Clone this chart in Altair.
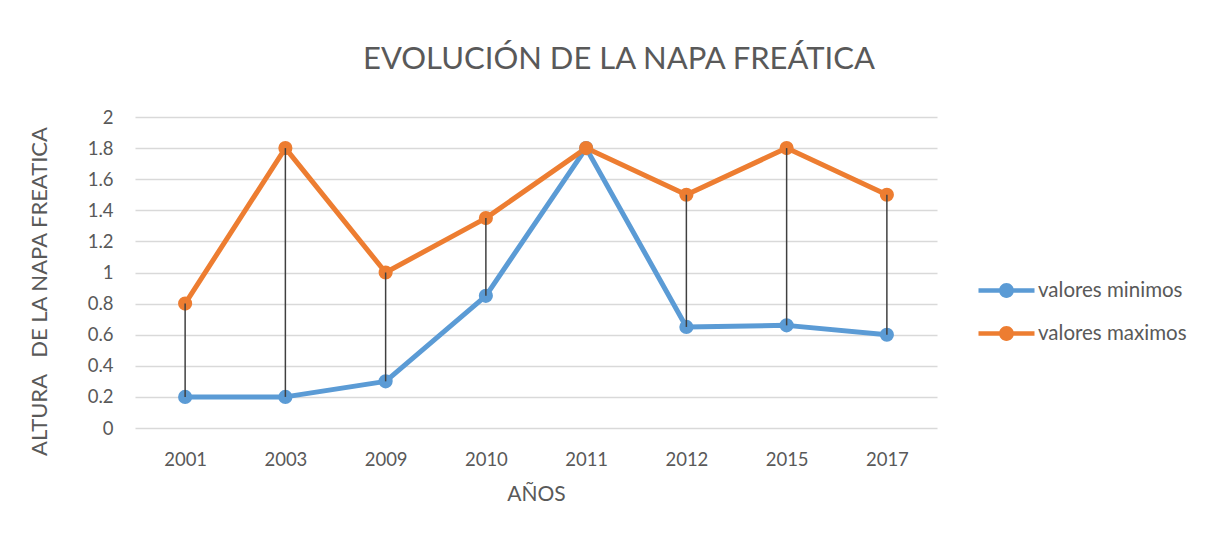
import altair as alt
import pandas as pd

years = ["2001", "2003", "2009", "2010", "2011", "2012", "2015", "2017"]
min_vals = [0.2, 0.2, 0.3, 0.85, 1.8, 0.65, 0.66, 0.6]
max_vals = [0.8, 1.8, 1.0, 1.35, 1.8, 1.5, 1.8, 1.5]
series_names = ["valores minimos", "valores maximos"]
series_colors = ["#5B9BD5", "#ED7D31"]
y_ticks = [0, 0.2, 0.4, 0.6, 0.8, 1.0, 1.2, 1.4, 1.6, 1.8, 2.0]

FONT = "Lato"
TXT = "#595959"

long_df = pd.DataFrame({
    "year": years * 2,
    "value": min_vals + max_vals,
    "serie": [series_names[0]] * len(years) + [series_names[1]] * len(years),
})
wide_df = pd.DataFrame({"year": years, "vmin": min_vals, "vmax": max_vals})

x_scale = alt.Scale(type="point", padding=0.5)
x_axis = alt.Axis(title="AÑOS", labelAngle=0, ticks=False, domain=False, grid=False,
                  labelPadding=22, titlePadding=15)
y_scale = alt.Scale(domain=[0, 2], nice=False, zero=True)
y_axis = alt.Axis(values=y_ticks, format="~g", title="ALTURA\u00a0\u00a0\u00a0DE LA NAPA FREATICA",
                  grid=True, gridColor="#D9D9D9", gridWidth=1.3, domain=False, ticks=False,
                  labelPadding=22, labelOverlap=False, titleX=-96, titleY=174, titleAngle=270,
                  titleAlign="center", titleBaseline="middle", titleFontSize=22)

legend_path = ("M-2.5,-0.21L2.5,-0.21L2.5,0.21L-2.5,0.21Z "
               "M-0.66,0A0.66,0.66,0,1,1,0.66,0A0.66,0.66,0,1,1,-0.66,0Z")

color_enc = alt.Color(
    "serie:N",
    scale=alt.Scale(domain=series_names, range=series_colors),
    legend=alt.Legend(title=None, orient="none", legendX=860, legendY=162,
                      symbolType=legend_path, symbolSize=502, symbolStrokeWidth=0,
                      labelOffset=20, rowPadding=21, padding=0,
                      labelFontSize=20.5, labelFont=FONT, labelColor=TXT),
)

base = alt.Chart(long_df).encode(
    x=alt.X("year:N", sort=years, scale=x_scale, axis=x_axis),
    y=alt.Y("value:Q", scale=y_scale, axis=y_axis),
    color=color_enc,
)

lines = base.mark_line(strokeWidth=5, strokeJoin="round")
points = base.mark_point(filled=True, size=200, opacity=1)

rules = alt.Chart(wide_df).mark_rule(color="#404040", strokeWidth=1.5).encode(
    x=alt.X("year:N", sort=years, scale=x_scale, axis=x_axis),
    y=alt.Y("vmin:Q", scale=y_scale, axis=y_axis),
    y2="vmax:Q",
)

chart = alt.layer(lines, points, rules).properties(
    width=802, height=311,
    background="white",
    autosize=alt.AutoSizeParams(type="none"),
    padding={"left": 127, "top": 109, "right": 268, "bottom": 97},
    title=alt.TitleParams("EVOLUCIÓN DE LA NAPA FREÁTICA", fontSize=31, font=FONT,
                          fontWeight="normal", color=TXT, anchor="middle", dx=83, offset=32),
).configure_view(stroke=None).configure_axis(
    labelFont=FONT, labelFontSize=18.5, labelColor=TXT,
    titleFont=FONT, titleFontSize=21, titleColor=TXT, titleFontWeight="normal",
)

chart.save("out.html", embed_options={"renderer": "svg", "actions": False})
